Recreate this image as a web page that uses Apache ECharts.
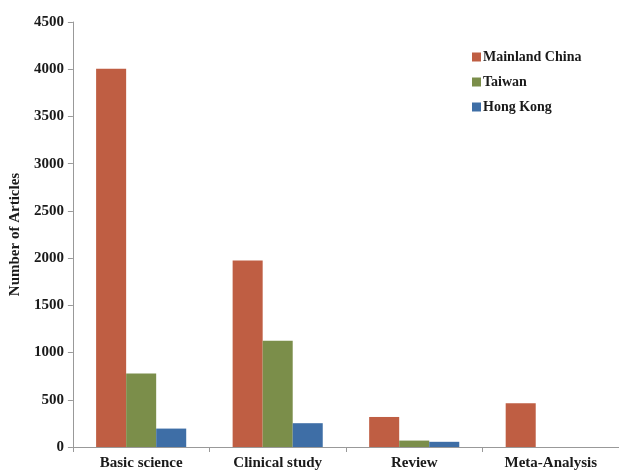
<!DOCTYPE html>
<html>
<head>
<meta charset="utf-8">
<script src="https://cdn.jsdelivr.net/npm/echarts@6/dist/echarts.min.js"></script>
<style>
html,body{margin:0;padding:0;background:#fff;}
#c{width:619px;height:474px;}
</style>
</head>
<body>
<div id="c"></div>
<script>
const categories = ['Basic science', 'Clinical study', 'Review', 'Meta-Analysis'];
const mainlandChina = [4005, 1975, 318, 463];
const taiwan = [778, 1125, 68, 0];
const hongKong = [195, 252, 55, 0];
const yTicks = [0, 500, 1000, 1500, 2000, 2500, 3000, 3500, 4000, 4500];

const font = '"Liberation Serif", "Times New Roman", serif';
const chart = echarts.init(document.getElementById('c'), null, {renderer: 'canvas'});
const mk = (name, data, color) => ({
  name, type: 'bar', data, barGap: '0%', barCategoryGap: '34%',
  itemStyle: {color}, emphasis: {disabled: true}
});
chart.setOption({
  animation: false,
  backgroundColor: '#ffffff',
  textStyle: {fontFamily: font},
  legend: {
    orient: 'vertical', left: 467, top: 45,
    itemWidth: 9, itemHeight: 9, itemGap: 11,
    icon: 'rect',
    textStyle: {fontFamily: font, fontWeight: 'bold', fontSize: 14, color: '#1a1a1a', padding: [0,0,0,-3]},
    data: ['Mainland China', 'Taiwan', 'Hong Kong']
  },
  grid: {left: 71, right: -2, top: 22, bottom: 27, containLabel: false},
  xAxis: {
    type: 'category', data: categories,
    axisLine: {lineStyle: {color: '#999999', width: 1}},
    axisTick: {show: true, length: 5, lineStyle: {color: '#999999'}},
    axisLabel: {fontFamily: font, fontWeight: 'bold', fontSize: 15, color: '#1a1a1a', margin: 9}
  },
  yAxis: {
    type: 'value', min: yTicks[0], max: yTicks[yTicks.length - 1], interval: 500,
    name: 'Number of Articles', nameLocation: 'middle', nameGap: 49, nameRotate: 90,
    nameTextStyle: {fontFamily: font, fontWeight: 'bold', fontSize: 15, color: '#1a1a1a'},
    axisLine: {show: true, lineStyle: {color: '#999999', width: 1}},
    axisTick: {show: true, length: 5, lineStyle: {color: '#999999'}},
    splitLine: {show: false},
    axisLabel: {fontFamily: font, fontWeight: 'bold', fontSize: 15, color: '#1a1a1a', margin: 9,
      formatter: v => String(v)}
  },
  series: [
    mk('Mainland China', mainlandChina, '#BF5E43'),
    mk('Taiwan', taiwan, '#7B8E4A'),
    mk('Hong Kong', hongKong, '#3E6EA6')
  ]
});
</script>
</body>
</html>
